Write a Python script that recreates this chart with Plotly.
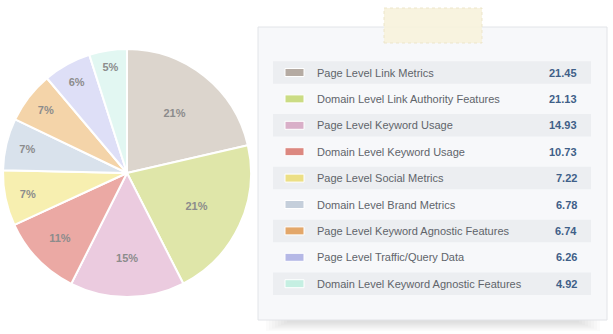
import plotly.graph_objects as go

# Ranking factor groups and their weights
categories = [
    "Page Level Link Metrics",
    "Domain Level Link Authority Features",
    "Page Level Keyword Usage",
    "Domain Level Keyword Usage",
    "Page Level Social Metrics",
    "Domain Level Brand Metrics",
    "Page Level Keyword Agnostic Features",
    "Page Level Traffic/Query Data",
    "Domain Level Keyword Agnostic Features",
]
values = [21.45, 21.13, 14.93, 10.73, 7.22, 6.78, 6.74, 6.26, 4.92]
value_labels = ["21.45", "21.13", "14.93", "10.73", "7.22", "6.78", "6.74", "6.26", "4.92"]

# Soft slice fills and the stronger swatch tones used in the key
slice_colors = ["#dcd5cd", "#dfe6a9", "#ebcbdf", "#eba9a4", "#f7efb0",
                "#d9e2ec", "#f4d4a9", "#dedff7", "#e2f7f2"]
swatch_colors = ["#b5aba3", "#cbdc84", "#d9afc8", "#dc8880", "#ecdf85",
                 "#c5cfdb", "#e3a76a", "#b5b8e6", "#c5efe2"]

W, H = 613, 334


def px(x):
    return x / W


def py(y):
    return 1 - y / H


fig = go.Figure()

fig.add_trace(go.Pie(
    labels=categories,
    values=values,
    sort=False,
    direction="clockwise",
    rotation=0,
    marker=dict(colors=slice_colors, line=dict(color="#ffffff", width=2)),
    texttemplate="<b>%{percent:.0%}</b>",
    textposition="inside",
    insidetextorientation="horizontal",
    textfont=dict(family="Liberation Sans, Arial, sans-serif", size=11, color="#8c8c8c"),
    hoverinfo="label+value",
    showlegend=False,
    domain=dict(x=[px(3), px(251)], y=[py(297), py(49)]),
))

shapes = []
annotations = []

# Soft drop shadow beneath the card, built from stacked translucent layers
for i in range(8):
    shapes.append(dict(type="rect", xref="paper", yref="paper",
                       x0=px(266 + i * 3), x1=px(600 - i * 3),
                       y0=py(321 + 10 - i * 1.2), y1=py(305),
                       fillcolor="rgba(60,60,70,0.018)", line=dict(width=0),
                       layer="below"))

# Card body
shapes.append(dict(type="rect", xref="paper", yref="paper",
                   x0=px(258), x1=px(607), y0=py(320), y1=py(27),
                   fillcolor="#f7f8fa", line=dict(color="#e2e4e8", width=1),
                   layer="below"))

# Tape strip on top of the card
shapes.append(dict(type="rect", xref="paper", yref="paper",
                   x0=px(384), x1=px(482), y0=py(43), y1=py(8),
                   fillcolor="rgba(247,242,220,0.9)",
                   line=dict(color="rgba(235,228,200,0.9)", width=1, dash="dot"),
                   layer="above"))

row0, pitch, row_h = 72.5, 26.4, 22.5
for i, (name, lab, sw) in enumerate(zip(categories, value_labels, swatch_colors)):
    cy = row0 + i * pitch
    if i % 2 == 0:
        shapes.append(dict(type="rect", xref="paper", yref="paper",
                           x0=px(273), x1=px(591),
                           y0=py(cy + row_h / 2), y1=py(cy - row_h / 2),
                           fillcolor="#eceef1", line=dict(width=0), layer="below"))
    shapes.append(dict(type="rect", xref="paper", yref="paper",
                       x0=px(285), x1=px(304), y0=py(cy + 4), y1=py(cy - 4),
                       fillcolor=sw, line=dict(color="#ffffff", width=1),
                       layer="above"))
    annotations.append(dict(xref="paper", yref="paper", x=px(315), y=py(cy),
                            xanchor="left", yanchor="middle", showarrow=False,
                            text=name,
                            font=dict(family="Liberation Sans, Arial, sans-serif",
                                      size=11, color="#60646a")))
    annotations.append(dict(xref="paper", yref="paper", x=px(579), y=py(cy),
                            xanchor="right", yanchor="middle", showarrow=False,
                            text=f"<b>{lab}</b>",
                            font=dict(family="Liberation Sans, Arial, sans-serif",
                                      size=11, color="#3f5f88")))

fig.update_layout(
    width=W, height=H,
    margin=dict(l=0, r=0, t=0, b=0),
    paper_bgcolor="#ffffff",
    plot_bgcolor="#ffffff",
    shapes=shapes,
    annotations=annotations,
)

fig.write_html("out.html")
